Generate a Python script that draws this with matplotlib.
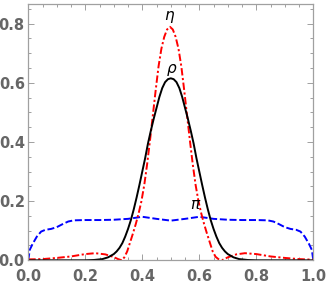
import matplotlib
matplotlib.use("Agg")
import matplotlib.pyplot as plt
from matplotlib.ticker import MultipleLocator

# ---- data ----
x_rho = [0.00, 0.10, 0.20, 0.23, 0.26, 0.28, 0.30, 0.31, 0.32, 0.33, 0.34, 0.35, 0.36, 0.37,
         0.38, 0.39, 0.40, 0.41, 0.42, 0.43, 0.44, 0.45, 0.46, 0.47, 0.48, 0.49, 0.50, 0.51,
         0.52, 0.53, 0.54, 0.55, 0.56, 0.57, 0.58, 0.59, 0.60, 0.61, 0.62, 0.63, 0.64, 0.65,
         0.66, 0.67, 0.68, 0.69, 0.70, 0.72, 0.74, 0.77, 0.80, 0.90, 1.00]
rho = [0.0, 0.0, 0.0, 0.001, 0.004, 0.01, 0.021, 0.03, 0.042, 0.058, 0.08, 0.106, 0.136, 0.172,
       0.212, 0.255, 0.30, 0.345, 0.395, 0.438, 0.478, 0.515, 0.552, 0.582, 0.602, 0.612, 0.615,
       0.612, 0.602, 0.582, 0.552, 0.515, 0.478, 0.438, 0.395, 0.345, 0.30, 0.255, 0.212, 0.172,
       0.136, 0.106, 0.08, 0.058, 0.042, 0.03, 0.021, 0.01, 0.004, 0.001, 0.0, 0.0, 0.0]

x_eta = [0.00, 0.05, 0.10, 0.15, 0.20, 0.235, 0.27, 0.30, 0.315, 0.328, 0.337, 0.347, 0.357,
         0.367, 0.377, 0.387, 0.397, 0.407, 0.417, 0.427, 0.437, 0.447, 0.457, 0.467, 0.477,
         0.487, 0.497, 0.507, 0.517, 0.527, 0.537, 0.547, 0.557, 0.567, 0.577, 0.587, 0.597,
         0.607, 0.617, 0.627, 0.637, 0.647, 0.657, 0.667, 0.679, 0.70, 0.73, 0.76, 0.80, 0.85,
         0.90, 0.95, 1.00]
eta = [0.003, 0.004, 0.008, 0.013, 0.021, 0.024, 0.02, 0.011, 0.004, 0.0, 0.01, 0.03, 0.06,
       0.09, 0.122, 0.158, 0.20, 0.255, 0.325, 0.405, 0.49, 0.575, 0.655, 0.715, 0.755,
       0.78, 0.789, 0.78, 0.755, 0.715, 0.655, 0.575, 0.49, 0.405, 0.325, 0.255, 0.20,
       0.158, 0.122, 0.09, 0.06, 0.03, 0.012, 0.004, 0.0, 0.01, 0.02, 0.024, 0.021, 0.013,
       0.008, 0.004, 0.002]

x_pi = [0.0, 0.005, 0.015, 0.03, 0.045, 0.06, 0.08, 0.10, 0.12, 0.14, 0.16, 0.20, 0.25, 0.30,
        0.35, 0.40, 0.45, 0.50, 0.55, 0.60, 0.65, 0.70, 0.75, 0.80, 0.84, 0.86, 0.88, 0.90,
        0.92, 0.94, 0.955, 0.97, 0.985, 0.995, 1.0]
pi_vals = [0.0, 0.035, 0.055, 0.08, 0.097, 0.103, 0.106, 0.112, 0.122, 0.131, 0.135, 0.136,
           0.136, 0.137, 0.140, 0.147, 0.140, 0.134, 0.140, 0.147, 0.140, 0.137, 0.136, 0.136,
           0.135, 0.131, 0.122, 0.112, 0.106, 0.103, 0.097, 0.08, 0.055, 0.035, 0.0]

labels = [r"$\eta$", r"$\rho$", r"$\pi$"]
label_x = [0.497, 0.503, 0.588]
label_y = [0.823, 0.643, 0.187]

x_ticks = [0.0, 0.2, 0.4, 0.6, 0.8, 1.0]
y_ticks = [0.0, 0.2, 0.4, 0.6, 0.8]

# ---- figure ----
fig = plt.figure(figsize=(3.27, 2.84), dpi=100)
ax = fig.add_axes([0.0865, 0.0835, 0.8716, 0.904])

ax.plot(x_pi, pi_vals, color=(0, 0, 1), lw=1.4, linestyle=(0, (3.6, 1.4)))
ax.plot(x_eta, eta, color=(1, 0, 0), lw=1.4, linestyle=(0, (3.8, 1.3, 1.1, 1.3)))
ax.plot(x_rho, rho, color="black", lw=1.4)

for t, xx, yy in zip(labels, label_x, label_y):
    ax.text(xx, yy, t, ha="center", va="center", fontsize=11, color="black")

ax.set_xlim(0, 1)
ax.set_ylim(0, 0.8676)
ax.set_xticks(x_ticks)
ax.set_yticks(y_ticks)
ax.set_xticklabels([f"{v:.1f}" for v in x_ticks])
ax.set_yticklabels([f"{v:.1f}" for v in y_ticks])
ax.xaxis.set_minor_locator(MultipleLocator(0.05))
ax.yaxis.set_minor_locator(MultipleLocator(0.05))

gray = "#a0a0a0"
for s in ax.spines.values():
    s.set_color(gray)
    s.set_linewidth(0.9)
ax.tick_params(which="both", direction="in", top=True, right=True, color=gray, width=0.7)
ax.tick_params(which="major", length=4)
ax.tick_params(which="minor", length=2.2)
ax.tick_params(axis="x", which="major", pad=6)
ax.tick_params(axis="y", which="major", pad=2.5)
for lab in ax.get_xticklabels() + ax.get_yticklabels():
    lab.set_fontweight("bold")
    lab.set_color("#666666")
    lab.set_fontsize(10.5)

fig.savefig("out.png", dpi=100)
